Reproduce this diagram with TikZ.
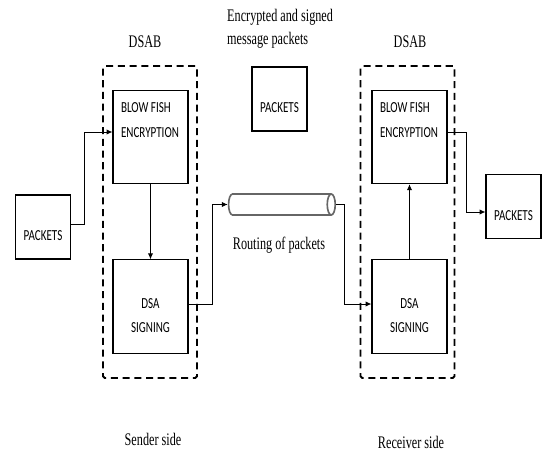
\documentclass[tikz,border=0pt]{standalone}
\usepackage{fontspec}
\setmainfont[FakeStretch=0.69]{Liberation Serif}
\newfontfamily\boxfont[FakeStretch=0.72]{Carlito}
\usetikzlibrary{shapes.geometric,arrows.meta}
\pgfdeclarelayer{bg}
\pgfsetlayers{bg,main}
\tikzset{
    every node/.style={inner sep=0mm},
    box/.style={rectangle, draw, line width=0.9pt, minimum width=2.25cm, minimum height=2.8cm},
    pbox/.style={rectangle, draw, line width=0.9pt, minimum width=1.65cm, minimum height=1.92cm},
    frame/.style={rectangle, draw, dash pattern=on 6pt off 4pt, line width=1.6pt, rounded corners=1.5pt, minimum width=2.82cm, minimum height=9.36cm},
    tube/.style={cylinder, draw=black!60, line width=1.4pt, fill=white, inner sep=0.3cm, minimum height=3.2cm, minimum width=0.63cm, shape aspect=0.4},
    caption/.style={font=\fontsize{15.1}{19.6}\selectfont, align=left},
    mid/.style={font=\boxfont\fontsize{13.1}{20.5}\selectfont, align=center, yshift=-0.27cm},
    corner/.style={font=\boxfont\fontsize{13.1}{20.5}\selectfont, align=left, anchor=north west, shift={(0.25cm,-0.39cm)}},
    link/.style={line width=0.8pt, -{Latex[length=5pt,width=4.5pt]}}
}
\begin{document}
\begin{tikzpicture}
        \useasboundingbox (0cm, 0cm) rectangle (16.260000cm, 13.530000cm);
        % boxes
        \node (pkL) [pbox, label={[mid]center:PACKETS}] at (1.290000cm, 6.720000cm) {};
        \node (bfL) [box, label={[corner]north west:{BLOW FISH\\ENCRYPTION}}] at (4.515000cm, 9.420000cm) {};
        \node (dsaL) [box, label={[mid]center:{DSA\\SIGNING}}] at (4.515000cm, 4.335000cm) {};
        \node (pkM) [pbox, label={[mid]center:PACKETS}] at (8.385000cm, 10.560000cm) {};
        \node (pipe) [tube] at (8.325000cm, 7.395000cm) {};
        \node (bfR) [box, label={[corner]north west:{BLOW FISH\\ENCRYPTION}}] at (12.285000cm, 9.420000cm) {};
        \node (dsaR) [box, label={[mid]center:{DSA\\SIGNING}}] at (12.285000cm, 4.335000cm) {};
        \node (pkR) [pbox, label={[mid]center:PACKETS}] at (15.405000cm, 7.335000cm) {};
        % texts
        \node (dsabL) [caption] at (4.350000cm, 12.270000cm) {DSAB};
        \node (dsabR) [caption] at (12.300000cm, 12.270000cm) {DSAB};
        \node (note) [caption, anchor=north west] at (6.810000cm, 13.250000cm) {Encrypted and signed\\message packets};
        \node (route) [caption, anchor=base] at (8.370000cm, 6.060000cm) {Routing of packets};
        \node (sender) [caption, anchor=base] at (4.590000cm, 0.160000cm) {Sender side};
        \node (receiver) [caption, anchor=base] at (12.330000cm, 0.090000cm) {Receiver side};
        \begin{pgfonlayer}{bg}
                \node (frmL) [frame] at (4.500000cm, 6.870000cm) {};
                \node (frmR) [frame] at (12.225000cm, 6.870000cm) {};
        \end{pgfonlayer}
        % connectors
        \draw [link] ([yshift=0.09cm]pkL.east) -- ++(0.39cm,0) |- ([yshift=0.15cm]bfL.west);
        \draw [link] (bfL.south) -- (dsaL.north);
        \draw [link] ([yshift=0.075cm]dsaL.east) -- ++(0.72cm,0) |- (pipe.west);
        \draw [link] (pipe.east) -- ++(0.24cm,0) |- ([yshift=0.075cm]dsaR.west);
        \draw [link] (dsaR.north) -- (bfR.south);
        \draw [link] ([yshift=0.15cm]bfR.east) -- ++(0.57cm,0) |- ([yshift=-0.165cm]pkR.west);
\end{tikzpicture}
\end{document}
